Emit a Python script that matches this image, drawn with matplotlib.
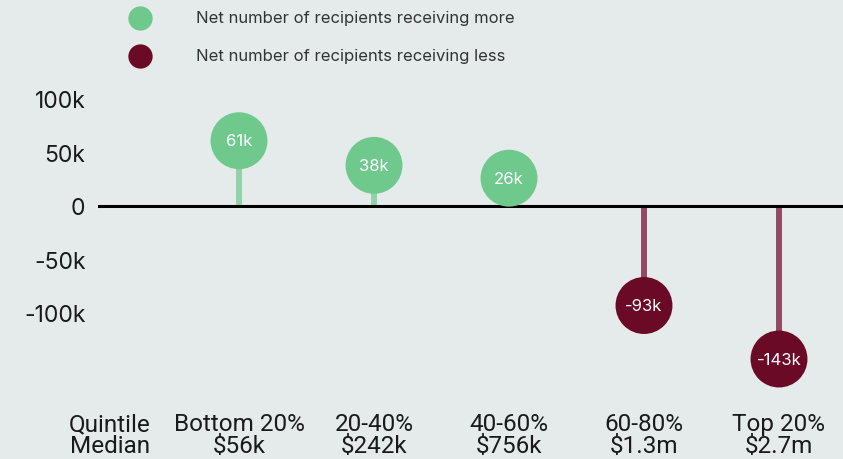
import matplotlib
matplotlib.use('Agg')
import matplotlib.pyplot as plt

# net change in recipients by wealth quintile
quintiles = ['Bottom 20%', '20-40%', '40-60%', '60-80%', 'Top 20%']
medians = ['$56k', '$242k', '$756k', '$1.3m', '$2.7m']
net_change = [61000, 38000, 26000, -93000, -143000]
value_labels = ['61k', '38k', '26k', '-93k', '-143k']

yticks = [100000, 50000, 0, -50000, -100000]
ytick_labels = ['100k', '50k', '0', '-50k', '-100k']

legend_labels = ['Net number of recipients receiving more',
                 'Net number of recipients receiving less']

bg = '#e5ebea'
green = '#6fc98d'
green_stem = '#8fd3a6'
maroon = '#6b0a26'
maroon_stem = '#914a64'
ink = '#1a1a1a'

plt.rcParams['font.family'] = ['Inter', 'DejaVu Sans']

W, H = 843, 460
fig = plt.figure(figsize=(W / 100, H / 100), dpi=100, facecolor=bg)
ax = fig.add_axes([98 / W, 60 / H, 745 / W, 325 / H])
ax.set_facecolor(bg)

px_per_unit = 53.5 / 50000
ax.set_xlim((98 - 239) / 135, (843 - 239) / 135)
ax.set_ylim(-(400 - 207) / px_per_unit, (207 - 75) / px_per_unit)

x = list(range(len(quintiles)))
colors = [green if v > 0 else maroon for v in net_change]
stem_colors = [green_stem if v > 0 else maroon_stem for v in net_change]

ax.vlines(x, 0, net_change, colors=stem_colors, linewidth=4.3, zorder=1)
ax.axhline(0, color='black', linewidth=2.2, zorder=2)
ax.scatter(x, net_change, s=1680, c=colors, edgecolors='none', zorder=3)
for xi, v, lab in zip(x, net_change, value_labels):
    ax.text(xi, v, lab, ha='center', va='center', color='white',
            fontsize=12, zorder=4)

for s in ax.spines.values():
    s.set_visible(False)
ax.set_xticks([])
ax.set_yticks(yticks)
ax.set_yticklabels(ytick_labels, fontsize=16.5, color=ink)
ax.tick_params(axis='y', length=0, pad=9)

# two-line category labels under the chart
narrow = ['Liberation Sans Narrow', 'Roboto', 'DejaVu Sans']
for xi, q, m in zip(x, quintiles, medians):
    fx = (239 + 135 * xi) / W
    fig.text(fx, 1 - 425 / H, q, ha='center', va='center', fontsize=17.5,
             color=ink, family=narrow)
    fig.text(fx, 1 - 447 / H, m, ha='center', va='center', fontsize=17.5,
             color=ink, family=narrow)
fig.text(110 / W, 1 - 425 / H, 'Quintile', ha='center', va='center',
         fontsize=17.5, color=ink, family=narrow)
fig.text(110 / W, 1 - 447 / H, 'Median', ha='center', va='center',
         fontsize=17.5, color=ink, family=narrow)

# legend drawn as markers plus text
for i, (lab, c) in enumerate(zip(legend_labels, [green, maroon])):
    fy = 1 - (19 + 38 * i) / H
    fig.add_artist(plt.Line2D([140 / W], [fy], marker='o', markersize=17.5,
                              color=c, markeredgewidth=0, linestyle='none'))
    fig.text(196 / W, fy, lab, ha='left', va='center', fontsize=12, color='#333333')

fig.savefig('out.png', dpi=100, facecolor=bg)
